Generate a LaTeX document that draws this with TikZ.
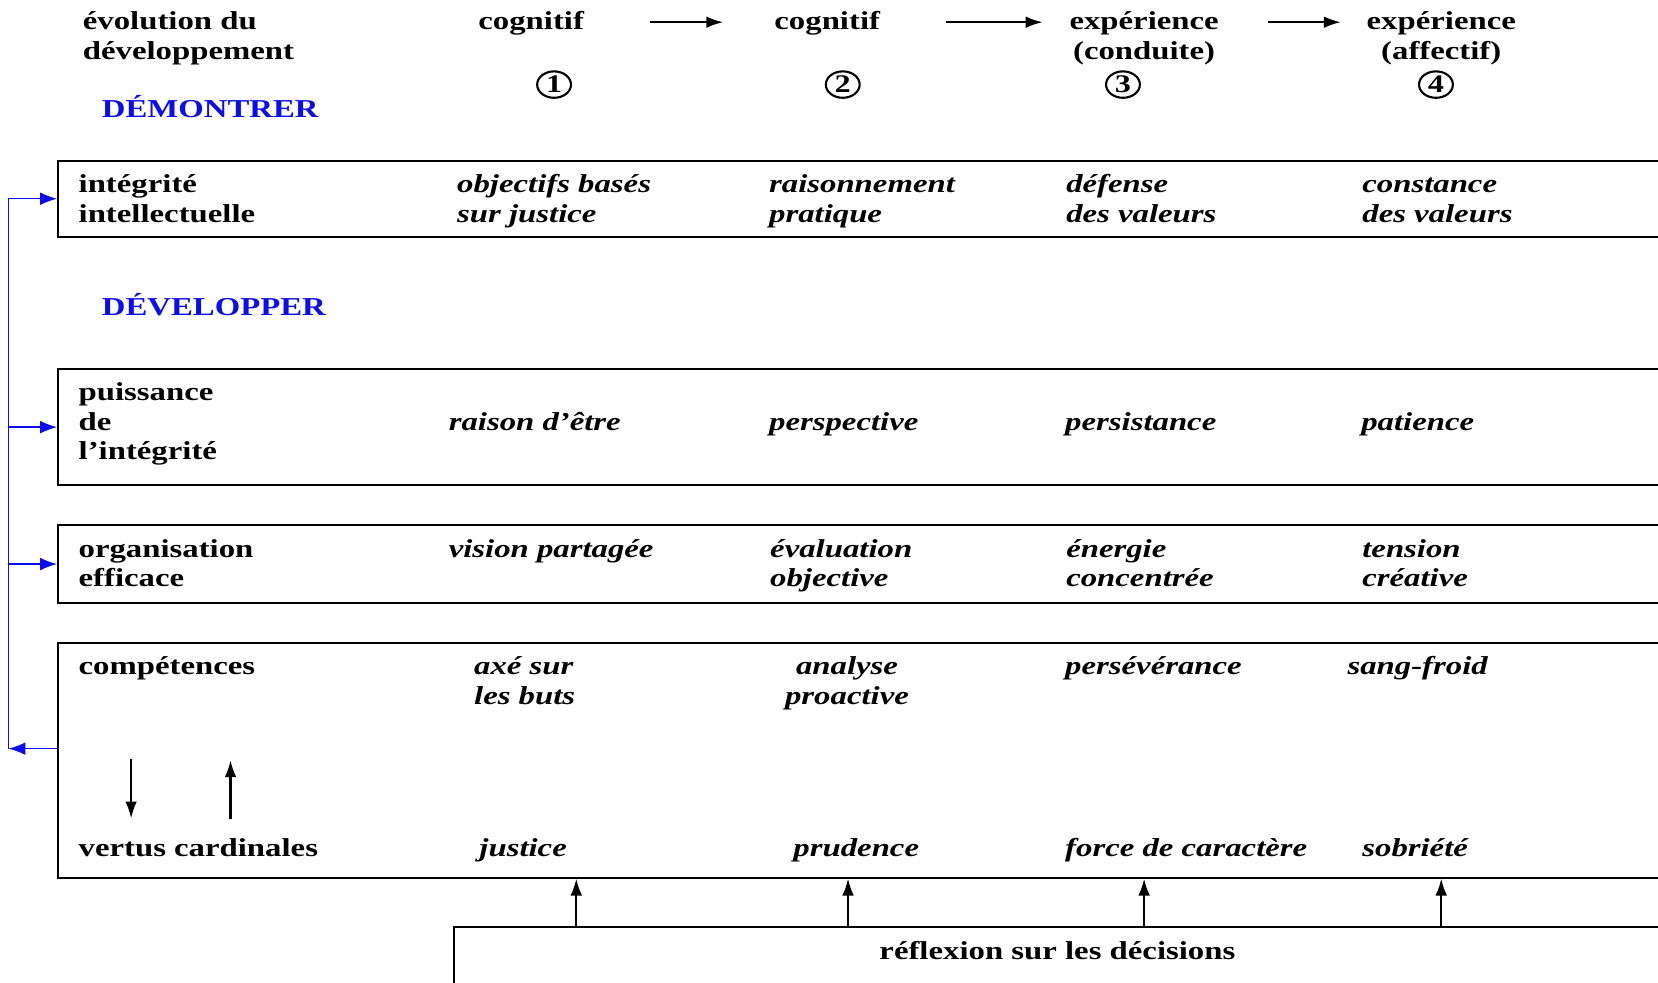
\documentclass[tikz,border=0pt]{standalone}
\usepackage{fontspec}
\setmainfont{Liberation Serif}[FakeStretch=1.27]
\usetikzlibrary{arrows.meta,shapes.geometric}
\definecolor{deepblue}{RGB}{12,12,240}
% stacked lines sharing the first line's baseline
\newcommand\leftlines[1]{\vtop{\baselineskip=14pt\halign{##\hfil\cr#1\crcr}}}
\newcommand\midlines[1]{\vtop{\baselineskip=14pt\halign{\hfil##\hfil\cr#1\crcr}}}
\begin{document}
\begin{tikzpicture}[x=0.5pt,y=-0.5pt,
  txt/.style={anchor=base west, inner sep=0pt, font=\fontsize{12.2pt}{14pt}\selectfont\bfseries},
  itx/.style={txt, font=\fontsize{12.2pt}{14pt}\selectfont\bfseries\itshape},
  head/.style={txt, text=deepblue},
  box/.style={draw, line width=0.95pt, inner sep=0pt, anchor=north west},
  num/.style={ellipse, draw, line width=1pt, minimum width=16pt, minimum height=12.5pt,
    inner sep=0pt, font=\fontsize{12pt}{12pt}\selectfont\bfseries},
  arr/.style={-{Latex[length=8pt,width=5.5pt]}, line width=1pt},
  bl/.style={deepblue, line width=0.6pt},
  blarr/.style={bl, -{Latex[length=8pt,width=6pt]}}]
\useasboundingbox (0,0) rectangle (1568,929);
\clip (0,0) rectangle (1568,929);

% header row
\node[txt] (evo) at (78,28) {\leftlines{évolution du\cr développement}};
\node[txt] (c1) at (452,28) {cognitif};
\node[txt] (c2) at (732,28) {cognitif};
\node[txt, anchor=base] (e3) at (1082,28) {\midlines{expérience\cr (conduite)}};
\node[txt, anchor=base] (e4) at (1363,28) {\midlines{expérience\cr (affectif)}};
\draw[arr, shorten <=31pt, shorten >=24pt] ([yshift=3.5pt]c1.base east) -- ([yshift=3.5pt]c2.base west);
\draw[arr, shorten <=31pt, shorten >=12.5pt] ([yshift=3.5pt]c2.base east) -- ([yshift=3.5pt]e3.base west);
\draw[arr, shorten <=23pt, shorten >=12pt] ([yshift=3.5pt]e3.base east) -- ([yshift=3.5pt]e4.base west);
\node[num] (n1) at (524,80) {1};
\node[num] (n2) at (797,80) {2};
\node[num] (n3) at (1062,80) {3};
\node[num] (n4) at (1358,80) {4};

% demonstrate
\node[head] (dem) at (96,111) {DÉMONTRER};
\node[box, minimum width=773pt, minimum height=36pt] (b1) at (54,151) {};
\node[txt] (t11) at (74,182) {\leftlines{intégrité\cr intellectuelle}};
\node[itx] (t12) at (432,182) {\leftlines{objectifs basés\cr sur justice}};
\node[itx] (t13) at (727,182) {\leftlines{raisonnement\cr pratique}};
\node[itx] (t14) at (1008,182) {\leftlines{défense\cr des valeurs}};
\node[itx] (t15) at (1288,182) {\leftlines{constance\cr des valeurs}};

% develop
\node[head] (dev) at (96,298) {DÉVELOPPER};
\node[box, minimum width=773pt, minimum height=55pt] (b2) at (54,348) {};
\node[txt] (t21) at (74,379) {\leftlines{puissance\cr de\cr l’intégrité}};
\node[itx] (t22) at (424,407) {raison d’être};
\node[itx] (t23) at (727,407) {perspective};
\node[itx] (t24) at (1007,407) {persistance};
\node[itx] (t25) at (1287,407) {patience};

\node[box, minimum width=773pt, minimum height=36.5pt] (b3) at (54,496) {};
\node[txt] (t31) at (74,527) {\leftlines{organisation\cr efficace}};
\node[itx] (t32) at (424,527) {vision partagée};
\node[itx] (t33) at (728,527) {\leftlines{évaluation\cr objective}};
\node[itx] (t34) at (1008,527) {\leftlines{énergie\cr concentrée}};
\node[itx] (t35) at (1288,527) {\leftlines{tension\cr créative}};

\node[box, minimum width=773pt, minimum height=111pt] (b4) at (54,607) {};
\node[txt] (t41) at (74,638) {compétences};
\node[itx] (t42) at (448,638) {\leftlines{axé sur\cr les buts}};
\node[itx, anchor=base] (t43) at (801,638) {\midlines{analyse\cr proactive}};
\node[itx] (t44) at (1007,638) {persévérance};
\node[itx] (t45) at (1274,638) {sang-froid};
\node[txt] (t51) at (74,810) {vertus cardinales};
\node[itx] (t52) at (453,810) {justice};
\node[itx] (t53) at (750,810) {prudence};
\node[itx] (t54) at (1007,810) {force de caractère};
\node[itx] (t55) at (1288,810) {sobriété};
\coordinate (dnA) at (124,718);
\coordinate (dnB) at (124,774);
\coordinate (upA) at (218,775);
\coordinate (upB) at (218,719);
\draw[arr] (dnA) -- (dnB);
\draw[arr] (upA) -- (upB);

% decisions feeding the virtues
\node[box, minimum width=586pt, minimum height=80pt] (b5) at (428,876) {};
\node[txt, anchor=base] (refl) at (1000,907) {réflexion sur les décisions};
\foreach \x in {545,802,1082,1363}
  \draw[arr] (\x,0 |- b5.north) -- (\x,0 |- b4.south);

% feedback loop on the left
\coordinate (spine) at (8,0);
\coordinate (out4) at (54,708);
\draw[blarr] (out4) -- (spine |- out4);
\draw[bl] (spine |- out4) -- (spine |- b1.west);
\draw[blarr] (spine |- b1.west) -- (b1.west);
\draw[blarr] (spine |- b2.west) -- (b2.west);
\draw[blarr] (spine |- b3.west) -- (b3.west);
\end{tikzpicture}
\end{document}
